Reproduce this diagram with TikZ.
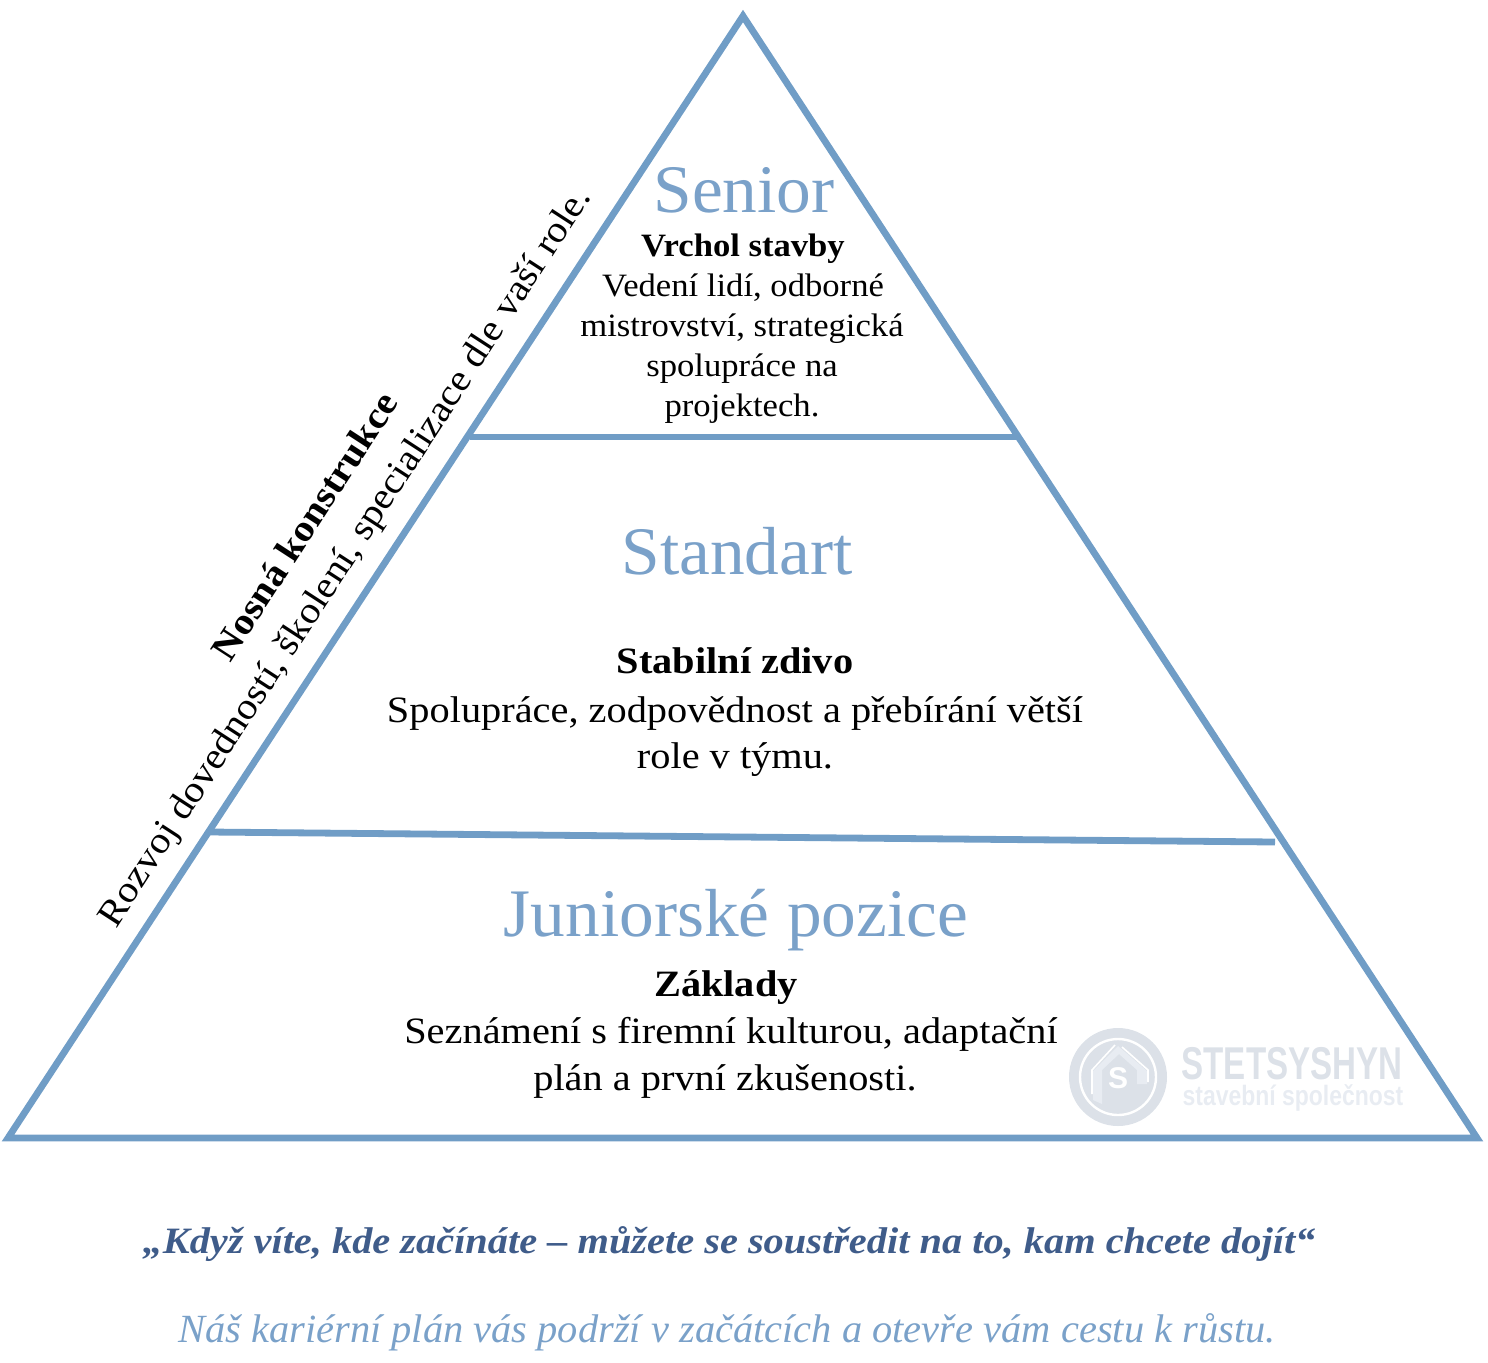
\documentclass[tikz,border=0pt]{standalone}
\usepackage{fontspec}
\setmainfont{Liberation Serif}
\newfontfamily\logofont{Liberation Sans}
\newfontfamily\headfont[FakeStretch=1.02]{Liberation Serif}
\newfontfamily\smallfont[FakeStretch=1.0625]{Liberation Serif}
\newfontfamily\widefont[FakeStretch=1.085]{Liberation Serif}
\newfontfamily\claimfont[FakeStretch=1.011]{Liberation Serif}
\definecolor{pyrblue}{HTML}{709DC6}
\definecolor{headblue}{HTML}{7AA1C9}
\definecolor{quoteblue}{HTML}{3F5C8A}
\definecolor{logogray}{HTML}{DCE1E8}
\definecolor{logolight}{HTML}{E8ECF2}
\tikzset{
  pyrline/.style={draw=pyrblue, line width=3.4pt, line join=miter},
  heading/.style={anchor=base, text=headblue, font=\headfont\fontsize{34}{34}\selectfont},
  bodysmall/.style={anchor=base, font=\smallfont\fontsize{16.3}{16.3}\selectfont},
  bodylarge/.style={anchor=base, font=\widefont\fontsize{18.6}{18.6}\selectfont},
  sidetext/.style={anchor=base, rotate=57, font=\widefont\fontsize{18.6}{18.6}\selectfont},
}
\begin{document}
\begin{tikzpicture}[x=.5pt, y=-.5pt]
      \useasboundingbox (0,0) rectangle (1488,1362);

      \coordinate (top)    at (743,16);
      \coordinate (left)   at (8,1138);
      \coordinate (right)  at (1477,1138);
      \coordinate (upperl) at (470,437);
      \coordinate (upperr) at (1017,437);
      \coordinate (lowerl) at (210,832);
      \coordinate (lowerr) at (1275,842);

      % logo
      \fill[logogray] (1118,1077) circle (49);
      \draw[white, line width=1.2pt] (1118,1077) circle (38);
      \fill[logolight] (1093,1100) -- (1093,1071) -- (1118,1046) -- (1147,1071) -- (1147,1084) -- (1137,1084) -- (1137,1070) -- (1119,1054) -- (1102,1070) -- (1102,1104) -- cycle;
      \draw[white, line width=.8pt] (1092,1094) -- (1092,1070) -- (1115,1045);
      \draw[white, line width=.8pt] (1122,1047) -- (1148,1070) -- (1148,1082);
      \begin{scope}[every node/.style={inner sep=0pt, anchor=base}]
        \node[text=white, font=\logofont\bfseries\fontsize{15}{15}\selectfont] (logos) at (1118,1088) {S};
        \node[text=logogray, xscale=.72, font=\logofont\bfseries\fontsize{23}{23}\selectfont] (logoname) at (1292,1079) {STETSYSHYN};
        \node[text=logolight, xscale=.82, font=\logofont\bfseries\fontsize{14}{14}\selectfont] (logosub) at (1293,1105) {stavební společnost};
      \end{scope}

      % pyramid
      \draw[pyrline] (left) -- (top) -- (right) -- cycle;
      \draw[pyrline] (upperl) -- (upperr);
      \draw[pyrline] (lowerl) -- (lowerr);

      \begin{scope}[every node/.style={inner sep=0pt}]
        \node[heading] (senior) at (744,212) {Senior};
        \node[bodysmall] (s1) at (743,256) {\bfseries Vrchol stavby};
        \node[bodysmall] (s2) at (743,296) {Vedení lidí, odborné};
        \node[bodysmall] (s3) at (742,336) {mistrovství, strategická};
        \node[bodysmall] (s4) at (742,376) {spolupráce na};
        \node[bodysmall] (s5) at (742,416) {projektech.};

        \node[heading] (standart) at (737,574) {Standart};
        \node[bodylarge] (t1) at (735,673) {\bfseries Stabilní zdivo};
        \node[bodylarge] (t2) at (735,722) {Spolupráce, zodpovědnost a přebírání větší};
        \node[bodylarge] (t3) at (735,768) {role v týmu.};

        \node[heading] (junior) at (736,936) {Juniorské pozice};
        \node[bodylarge] (j1) at (726,996) {\bfseries Základy};
        \node[bodylarge] (j2) at (731,1043) {Seznámení s firemní kulturou, adaptační};
        \node[bodylarge] (j3) at (725,1090) {plán a první zkušenosti.};

        \node[sidetext] (side1) at (315,533) {\bfseries Nosná konstrukce};
        \node[sidetext] (side2) at (354,563) {Rozvoj dovedností, školení, specializace dle vaší role.};

        \node[anchor=base, text=quoteblue, font=\widefont\bfseries\itshape\fontsize{18.6}{18.6}\selectfont] (quote) at (729,1253) {„Když víte, kde začínáte – můžete se soustředit na to, kam chcete dojít“};
        \node[anchor=base, text=headblue, font=\claimfont\itshape\fontsize{20}{20}\selectfont] (claim) at (727,1342) {Náš kariérní plán vás podrží v začátcích a otevře vám cestu k růstu.};
      \end{scope}

    \end{tikzpicture}
\end{document}
